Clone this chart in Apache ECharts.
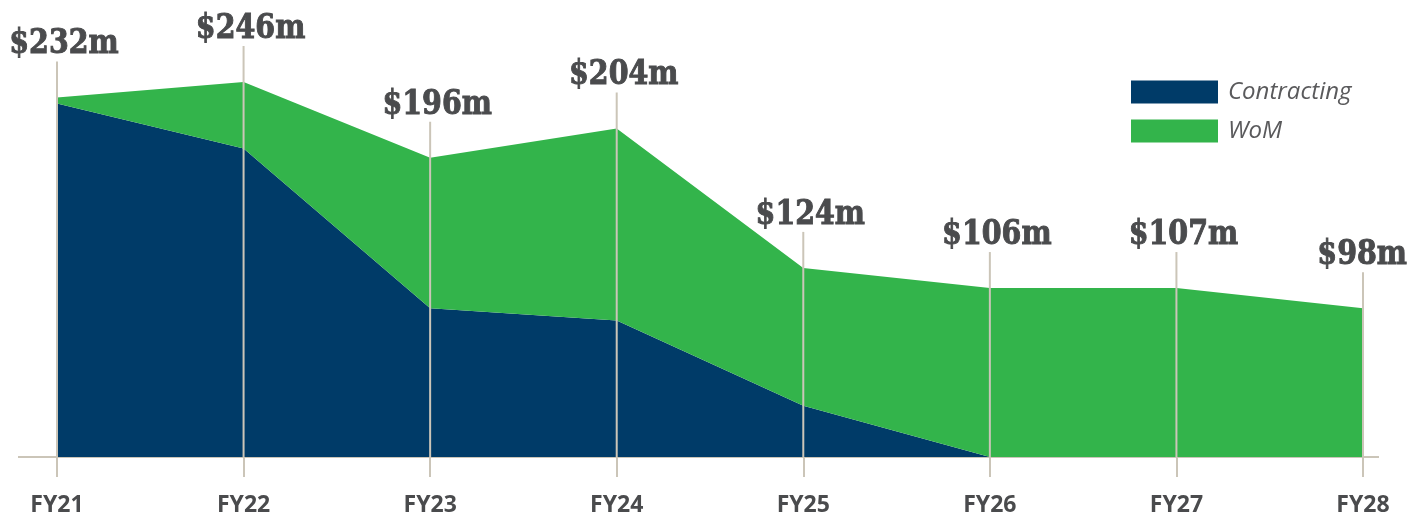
<!DOCTYPE html>
<html>
<head>
<meta charset="utf-8">
<script src="https://cdn.jsdelivr.net/npm/echarts@6/dist/echarts.min.js"></script>
<style>
  html, body { margin: 0; padding: 0; background: #fff; }
  #chart { width: 1413px; height: 519px; }
</style>
</head>
<body>
<div id="chart"></div>
<script>
// categories
const years = ['FY21', 'FY22', 'FY23', 'FY24', 'FY25', 'FY26', 'FY27', 'FY28']
// stacked values as drawn ($m)
const contracting = [228, 199, 96, 88, 33, 0, 0, 0]
const wom = [4, 43, 97, 124, 89, 109, 109, 96]
// total labels printed above each year
const totals = [232, 246, 196, 204, 124, 106, 107, 98]

const navy = '#003b68'
const green = '#33b44b'
const rule = '#cbc5b8'
const ink = '#4a4b4d'
const labelFont = 'bold 30px "DejaVu Serif"'
const labelScaleX = 0.95

const drawnTop = contracting.map((v, i) => [i, v + wom[i]])

// 量一下标签宽度，防止最右边被裁掉
const measureCtx = document.createElement('canvas').getContext('2d')
measureCtx.font = labelFont
const textWidth = (t) => measureCtx.measureText(t).width * labelScaleX

const el = document.getElementById('chart')
const chart = echarts.init(el)

chart.setOption({
  animation: false,
  grid: { left: 57, right: 50, top: 54, bottom: 62 },
  legend: {
    orient: 'vertical',
    left: 1131,
    top: 80,
    padding: 0,
    itemWidth: 87,
    itemHeight: 23,
    itemGap: 15,
    icon: 'rect',
    data: ['Contracting', 'WoM'],
    textStyle: {
      fontFamily: 'Open Sans',
      fontStyle: 'italic',
      fontSize: 24,
      color: '#5a5a5c',
      padding: [0, 0, 0, 5]
    }
  },
  xAxis: {
    type: 'category',
    boundaryGap: false,
    data: years,
    axisLine: { show: false },
    axisTick: { show: true, length: 20, lineStyle: { color: rule, width: 2 } },
    axisLabel: {
      margin: 37,
      fontFamily: 'Open Sans',
      fontWeight: 'bold',
      fontSize: 23,
      color: ink
    }
  },
  yAxis: {
    type: 'value',
    min: 0,
    max: 260,
    show: false,
    splitLine: { show: false }
  },
  series: [
    {
      name: 'Contracting',
      type: 'line',
      stack: 'total',
      data: contracting,
      symbol: 'none',
      lineStyle: { width: 0 },
      itemStyle: { color: navy },
      areaStyle: { color: navy, opacity: 1 },
      z: 2
    },
    {
      name: 'WoM',
      type: 'line',
      stack: 'total',
      data: wom,
      symbol: 'none',
      lineStyle: { width: 0 },
      itemStyle: { color: green },
      areaStyle: { color: green, opacity: 1 },
      z: 2
    },
    {
      // 竖线 + 总额标签
      type: 'custom',
      data: drawnTop,
      z: 5,
      silent: true,
      renderItem: (params, api) => {
        const base = api.coord([api.value(0), 0])
        const top = api.coord([api.value(0), api.value(1)])
        const text = '$' + totals[params.dataIndex] + 'm'
        const half = textWidth(text) / 2
        const cx = Math.min(base[0] + 7, el.clientWidth - 6 - half)
        return {
          type: 'group',
          children: [
            {
              type: 'line',
              shape: { x1: base[0], y1: base[1], x2: base[0], y2: top[1] - 36 },
              style: { stroke: rule, lineWidth: 2 }
            },
            {
              type: 'text',
              x: cx,
              y: top[1] - 36,
              scaleX: labelScaleX,
              scaleY: 1.12,
              style: {
                text: text,
                font: labelFont,
                fill: ink,
                stroke: ink,
                lineWidth: 0.9,
                align: 'center',
                verticalAlign: 'bottom'
              }
            }
          ]
        }
      }
    }
  ]
})

// 底部基线（两端略超出坐标区）
const y0 = chart.convertToPixel({ xAxisIndex: 0, yAxisIndex: 0 }, [0, 0])[1]
chart.setOption({
  graphic: [{
    type: 'line',
    z: 1,
    shape: { x1: 18, y1: y0, x2: 1379, y2: y0 },
    style: { stroke: rule, lineWidth: 2 }
  }]
})
</script>
</body>
</html>
